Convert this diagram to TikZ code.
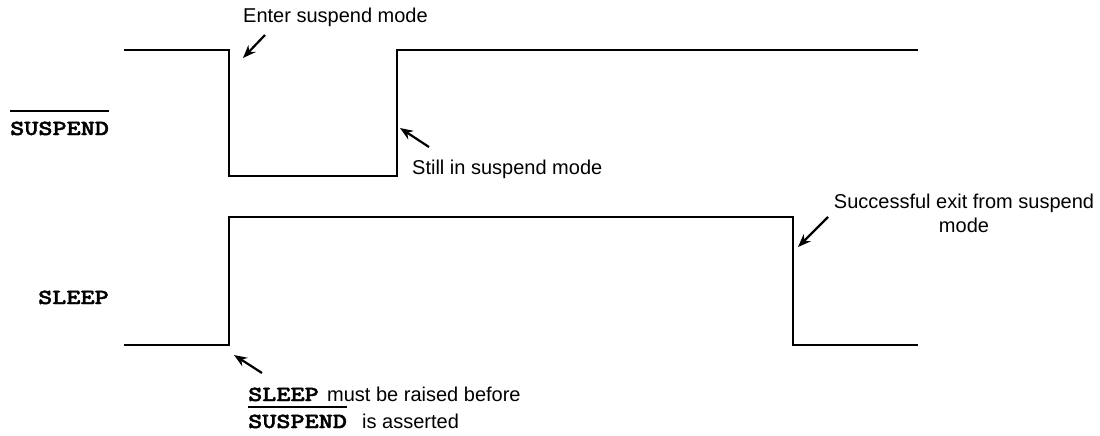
\documentclass[tikz,border=0pt]{standalone}
\usepackage{fontspec}
\setmainfont{Liberation Sans}
\newfontfamily\sigfont{lmmonolt10-bold.otf}[FakeStretch=1.25,FakeBold=2]
\usetikzlibrary{arrows.meta}
\begin{document}
\begin{tikzpicture}[x=1pt,y=-1pt,
  wave/.style={line width=2.2pt, line join=miter},
  arr/.style={-{Stealth[length=13pt,width=10pt]}, line width=2.2pt},
  txt/.style={font=\fontsize{20}{24}\selectfont, inner sep=0pt},
  sig/.style={font=\fontsize{21.5}{24}\selectfont\sigfont, inner sep=0pt},
  bar/.style={line width=1.8pt}]
\useasboundingbox (0,0) rectangle (1100,436);
% SUSPEND waveform
\coordinate (s0) at (124,50);
\coordinate (s1) at (229,50);
\coordinate (s2) at (229,176);
\coordinate (s3) at (397,176);
\coordinate (s4) at (397,50);
\coordinate (s5) at (918,50);
\draw[wave] (s0) -- (s1) -- (s2) -- (s3) -- (s4) -- (s5);
% SLEEP waveform
\coordinate (p0) at (124,345);
\coordinate (p1) at (229,345);
\coordinate (p2) at (229,217);
\coordinate (p3) at (793,217);
\coordinate (p4) at (793,345);
\coordinate (p5) at (918,345);
\draw[wave] (p0) -- (p1) -- (p2) -- (p3) -- (p4) -- (p5);
% signal labels
\node[sig, anchor=base west] (lsusp) at (10,135) {SUSPEND};
\coordinate (bar1) at (0,111);
\draw[bar] (lsusp.west |- bar1) -- (lsusp.east |- bar1);
\node[sig, anchor=base west] (lsleep) at (38,304) {SLEEP};
% annotations
\node[txt, anchor=base west] (tenter) at (243,23) {Enter suspend mode};
\coordinate (aenter0) at (265,35);
\coordinate (aenter1) at (243,58);
\draw[arr] (aenter0) -- (aenter1);
\node[txt, anchor=base west] (tstill) at (412,174) {Still in suspend mode};
\coordinate (astill0) at (429,147);
\coordinate (astill1) at (400,128);
\draw[arr] (astill0) -- (astill1);
\node[txt, anchor=base] (texit1) at (964,208) {Successful exit from suspend};
\node[txt, anchor=base] (texit2) at (964,232) {mode};
\coordinate (aexit0) at (828,217);
\coordinate (aexit1) at (798,247);
\draw[arr] (aexit0) -- (aexit1);
\coordinate (anote0) at (262,373);
\coordinate (anote1) at (234,355);
\draw[arr] (anote0) -- (anote1);
\node[sig, anchor=base west] (nsleep) at (248,401) {SLEEP};
\node[txt, anchor=base west] (nmust) at (327,401) {must be raised before};
\node[sig, anchor=base west] (nsusp) at (248,428) {SUSPEND};
\coordinate (bar2) at (0,407);
\draw[bar] (nsusp.west |- bar2) -- (nsusp.east |- bar2);
\node[txt, anchor=base west] (nasserted) at (362,428) {is asserted};
\end{tikzpicture}
\end{document}
